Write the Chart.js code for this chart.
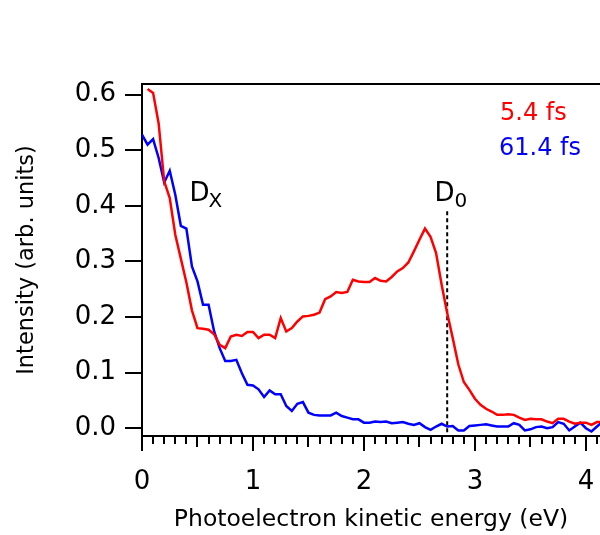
<!DOCTYPE html>
<html>
<head>
<meta charset="utf-8">
<script src="https://cdn.jsdelivr.net/npm/chart.js@4.4.0/dist/chart.umd.min.js"></script>
<style>
  html, body { margin: 0; padding: 0; background: #fff; }
  #wrap { width: 600px; height: 535px; }
</style>
</head>
<body>
<div id="wrap"><canvas id="c" width="600" height="535"></canvas></div>
<script>
// Photoelectron spectra at two pump-probe delays
const energyEv = [
  0.00, 0.05, 0.10, 0.15, 0.20, 0.25, 0.30, 0.35, 0.40, 0.45,
  0.50, 0.55, 0.60, 0.65, 0.70, 0.75, 0.80, 0.85, 0.90, 0.95,
  1.00, 1.05, 1.10, 1.15, 1.20, 1.25, 1.30, 1.35, 1.40, 1.45,
  1.50, 1.55, 1.60, 1.65, 1.70, 1.75, 1.80, 1.85, 1.90, 1.95,
  2.00, 2.05, 2.10, 2.15, 2.20, 2.25, 2.30, 2.35, 2.40, 2.45,
  2.50, 2.55, 2.60, 2.65, 2.70, 2.75, 2.80, 2.85, 2.90, 2.95,
  3.00, 3.05, 3.10, 3.15, 3.20, 3.25, 3.30, 3.35, 3.40, 3.45,
  3.50, 3.55, 3.60, 3.65, 3.70, 3.75, 3.80, 3.85, 3.90, 3.95,
  4.00, 4.05, 4.10, 4.15
];
const delay5fs = [
  null, 0.610, 0.603, 0.548, 0.444, 0.414, 0.348, 0.305, 0.262, 0.212,
  0.180, 0.179, 0.177, 0.169, 0.150, 0.144, 0.165, 0.168, 0.166, 0.173,
  0.173, 0.162, 0.168, 0.168, 0.162, 0.198, 0.174, 0.180, 0.192, 0.201,
  0.202, 0.204, 0.208, 0.232, 0.237, 0.245, 0.243, 0.245, 0.267, 0.264,
  0.263, 0.263, 0.270, 0.265, 0.264, 0.272, 0.282, 0.288, 0.298, 0.318,
  0.339, 0.359, 0.344, 0.315, 0.258, 0.207, 0.162, 0.115, 0.083, 0.069,
  0.053, 0.042, 0.035, 0.030, 0.024, 0.024, 0.025, 0.024, 0.019, 0.015,
  0.017, 0.016, 0.016, 0.012, 0.009, 0.017, 0.017, 0.012, 0.008, 0.010,
  0.010, 0.006, 0.011, 0.011
];
const delay61fs = [
  0.528, 0.510, 0.520, 0.486, 0.442, 0.463, 0.420, 0.364, 0.359, 0.291,
  0.264, 0.222, 0.222, 0.174, 0.144, 0.121, 0.121, 0.123, 0.099, 0.078,
  0.077, 0.070, 0.056, 0.068, 0.061, 0.061, 0.040, 0.031, 0.044, 0.047,
  0.028, 0.024, 0.023, 0.023, 0.023, 0.028, 0.022, 0.019, 0.016, 0.016,
  0.010, 0.010, 0.012, 0.011, 0.012, 0.009, 0.010, 0.011, 0.008, 0.006,
  0.009, 0.002, -0.003, 0.003, 0.008, 0.003, 0.004, -0.004, -0.004, 0.004,
  0.005, 0.006, 0.007, 0.005, 0.003, 0.003, 0.003, 0.009, 0.006, -0.004,
  -0.002, 0.002, 0.003, 0.000, 0.002, 0.011, 0.008, -0.004, 0.003, 0.010,
  0.000, -0.006, 0.003, 0.012
];
const xTicks = [0, 1, 2, 3, 4];
const yTicks = [0.0, 0.1, 0.2, 0.3, 0.4, 0.5, 0.6];
const legendLabels = ["5.4 fs", "61.4 fs"];
const d0Energy = 2.75;
const d0Marker = [{ x: d0Energy, y: 0.39 }, { x: d0Energy, y: -0.014 }];

const FONT = '"DejaVu Sans", "Noto Sans", sans-serif';
const RED = "#ff0000";
const BLUE = "#0000ff";

function pairs(xs, ys) {
  return xs.map((x, i) => ({ x, y: ys[i] }));
}

// top frame, minor x ticks, peak labels and delay legend
const overlay = {
  id: "overlay",
  afterDraw(chart) {
    const { ctx, chartArea: a, scales } = chart;
    const x = scales.x, y = scales.y;
    ctx.save();
    ctx.strokeStyle = "#000";
    ctx.lineWidth = 2;
    ctx.beginPath();
    ctx.moveTo(a.left - 1, a.top);
    ctx.lineTo(a.right, a.top);
    ctx.stroke();

    for (let i = 1; i <= 41; i++) {
      if (i % 10 === 0) continue;
      const px = Math.round(x.getPixelForValue(i / 10));
      const len = i % 5 === 0 ? 11 : 8;
      ctx.beginPath();
      ctx.moveTo(px, a.bottom);
      ctx.lineTo(px, a.bottom + len);
      ctx.stroke();
    }

    ctx.fillStyle = "#000";
    ctx.textAlign = "left";
    ctx.textBaseline = "alphabetic";
    const dy = y.getPixelForValue(0.4085);
    const dx = x.getPixelForValue(0.428);
    ctx.font = "26px " + FONT;
    ctx.fillText("D", dx, dy);
    ctx.font = "20px " + FONT;
    ctx.fillText("X", dx + 19, dy + 6);
    const ex = x.getPixelForValue(2.635);
    ctx.font = "26px " + FONT;
    ctx.fillText("D", ex, dy);
    ctx.font = "20px " + FONT;
    ctx.fillText("0", ex + 20, dy + 6);

    ctx.textBaseline = "middle";
    ctx.font = "24px " + FONT;
    ctx.fillStyle = RED;
    ctx.fillText(legendLabels[0], 500, 114);
    ctx.fillStyle = BLUE;
    ctx.fillText(legendLabels[1], 499, 149);
    ctx.restore();
  }
};

new Chart(document.getElementById("c"), {
  type: "line",
  data: {
    datasets: [
      { label: legendLabels[0], data: pairs(energyEv, delay5fs), borderColor: RED, borderWidth: 2.5, pointRadius: 0, tension: 0 },
      { label: legendLabels[1], data: pairs(energyEv, delay61fs), borderColor: BLUE, borderWidth: 2.5, pointRadius: 0, tension: 0 },
      { label: "D0", data: d0Marker, borderColor: "#000", borderWidth: 2, borderDash: [4, 3], pointRadius: 0 }
    ]
  },
  options: {
    responsive: false,
    animation: false,
    devicePixelRatio: 1,
    layout: { padding: { top: 84, right: 0, bottom: 0, left: 0 } },
    plugins: { legend: { display: false }, tooltip: { enabled: false } },
    scales: {
      x: {
        type: "linear", min: 0, max: 4.127,
        afterBuildTicks: (s) => { s.ticks = xTicks.map((v) => ({ value: v })); },
        afterFit: (s) => { s.height = 99; s.paddingLeft = 0; s.paddingRight = 0; },
        border: { display: true, color: "#000", width: 2 },
        grid: { display: true, drawOnChartArea: false, drawTicks: true, tickLength: 15, color: "#000", lineWidth: 2 },
        ticks: { color: "#000", padding: 16, maxRotation: 0, font: { family: FONT, size: 26 }, callback: (v) => String(v) },
        title: { display: true, text: "Photoelectron kinetic energy (eV)", color: "#000", padding: { top: 0, bottom: 1 }, font: { family: FONT, size: 23.5 } }
      },
      y: {
        min: -0.014, max: 0.619,
        afterBuildTicks: (s) => { s.ticks = yTicks.map((v) => ({ value: v })); },
        afterFit: (s) => { s.width = 142; },
        border: { display: true, color: "#000", width: 2 },
        grid: { display: true, drawOnChartArea: false, drawTicks: true, tickLength: 17, color: "#000", lineWidth: 2 },
        ticks: { color: "#000", padding: 9, font: { family: FONT, size: 26 }, callback: (v) => v.toFixed(1) },
        title: { display: true, text: "Intensity (arb. units)", color: "#000", padding: { top: 14, bottom: 0 }, font: { family: FONT, size: 22.5 } }
      }
    }
  },
  plugins: [overlay]
});
</script>
</body>
</html>
